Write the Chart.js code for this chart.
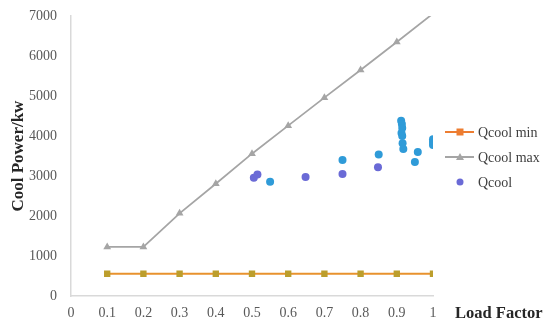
<!DOCTYPE html>
<html>
<head>
<meta charset="utf-8">
<script src="https://cdn.jsdelivr.net/npm/chart.js@4"></script>
<style>
    html, body { margin: 0; padding: 0; background: #fff; }
    #wrap { width: 550px; height: 330px; position: relative; }
</style>
</head>
<body>
<div id="wrap"><canvas id="chart"></canvas></div>
<script>
// ---- data -----------------------------------------------------------------
var loadFactors = [0.1, 0.2, 0.3, 0.4, 0.5, 0.6, 0.7, 0.8, 0.9, 1.0];
var qcoolMin = [560, 560, 560, 560, 560, 560, 560, 560, 560, 560];
var qcoolMax = [1230, 1230, 2070, 2810, 3560, 4260, 4960, 5650, 6350, 7060];

// measured operating points (purple ones are the "Qcool" legend entry)
var qcoolX = [0.505, 0.515, 0.648, 0.75, 0.848];
var qcoolY = [2960, 3040, 2975, 3050, 3220];
// extra measured points, drawn in light blue, not in the legend
var qcoolExtraX = [0.55, 0.75, 0.85, 0.912, 0.914, 0.915, 0.913, 0.915, 0.916, 0.918, 0.95, 0.958, 1.0, 1.0, 1.0];
var qcoolExtraY = [2860, 3400, 3540, 4380, 4300, 4200, 4080, 4000, 3820, 3680, 3350, 3600, 3920, 3850, 3780];

var C = {
    orange: '#ED7D31',
    olive: '#BC9E2C',
    gray: '#A5A5A5',
    purple: '#6A6AD6',
    blue: '#2F9BD8',
    axis: '#D9D9D9',
    tick: '#595959',
    ink: '#262626'
};
var serif = '"Liberation Serif", "DejaVu Serif", serif';

// legend drawn Excel-style: short line with the marker in the middle
var legendItems = [
    { label: 'Qcool min', line: C.orange, marker: 'rect', color: C.orange },
    { label: 'Qcool max', line: C.gray, marker: 'triangle', color: C.gray },
    { label: 'Qcool', line: null, marker: 'circle', color: C.purple }
];

var sideText = {
    id: 'sideText',
    afterDraw: function (chart) {
        var ctx = chart.ctx;
        var area = chart.chartArea;
        ctx.save();
        // legend
        var x0 = area.right + 12;
        var y0 = 132;
        legendItems.forEach(function (it, i) {
            var y = y0 + i * 25;
            var cx = x0 + 15;
            if (it.line) {
                ctx.strokeStyle = it.line;
                ctx.lineWidth = 2;
                ctx.beginPath();
                ctx.moveTo(x0, y);
                ctx.lineTo(x0 + 29, y);
                ctx.stroke();
            }
            ctx.fillStyle = it.color;
            ctx.beginPath();
            if (it.marker === 'rect') {
                ctx.rect(cx - 3.5, y - 3.5, 7, 7);
            } else if (it.marker === 'triangle') {
                ctx.moveTo(cx, y - 4);
                ctx.lineTo(cx + 4, y + 3);
                ctx.lineTo(cx - 4, y + 3);
                ctx.closePath();
            } else {
                ctx.arc(cx, y, 3.5, 0, Math.PI * 2);
            }
            ctx.fill();
            ctx.font = '14px ' + serif;
            ctx.fillStyle = '#404040';
            ctx.textAlign = 'left';
            ctx.textBaseline = 'middle';
            ctx.fillText(it.label, x0 + 33, y + 1);
        });
        // x axis title sits beside the tick labels
        ctx.font = 'bold 16.5px ' + serif;
        ctx.fillStyle = C.ink;
        ctx.textAlign = 'left';
        ctx.textBaseline = 'middle';
        ctx.fillText('Load Factor', area.right + 22, area.bottom + 18);
        ctx.restore();
    }
};

var pts = function (xs, ys) {
    return xs.map(function (x, i) { return { x: x, y: ys[i] }; });
};

new Chart(document.getElementById('chart'), {
    type: 'scatter',
    data: {
        datasets: [
            {
                label: 'Qcool min',
                data: pts(loadFactors, qcoolMin),
                showLine: true,
                borderColor: '#E8922E',
                borderWidth: 2,
                pointStyle: 'rect',
                pointRadius: 4.5,
                pointBackgroundColor: C.olive,
                pointBorderWidth: 0
            },
            {
                label: 'Qcool max',
                data: pts(loadFactors, qcoolMax),
                showLine: true,
                borderColor: C.gray,
                borderWidth: 1.75,
                pointStyle: 'triangle',
                pointRadius: 4.5,
                pointBackgroundColor: C.gray,
                pointBorderWidth: 0
            },
            {
                label: 'Qcool extra',
                data: pts(qcoolExtraX, qcoolExtraY),
                pointRadius: 4,
                pointBackgroundColor: C.blue,
                pointBorderWidth: 0
            },
            {
                label: 'Qcool',
                data: pts(qcoolX, qcoolY),
                pointRadius: 4,
                pointBackgroundColor: C.purple,
                pointBorderWidth: 0
            }
        ]
    },
    options: {
        responsive: true,
        maintainAspectRatio: false,
        animation: false,
        layout: { padding: { top: 16, right: 117, bottom: 0, left: 8 } },
        plugins: { legend: { display: false }, tooltip: { enabled: false } },
        scales: {
            x: {
                type: 'linear',
                min: 0,
                max: 1,
                grid: { display: false, drawTicks: false },
                border: { color: C.axis, width: 1.5 },
                ticks: {
                    stepSize: 0.1,
                    padding: 8.5,
                    color: C.tick,
                    font: { family: serif, size: 14 },
                    callback: function (v) { return String(Number(v.toFixed(1))); }
                }
            },
            y: {
                min: 0,
                max: 7000,
                grid: { display: false, drawTicks: false },
                border: { color: C.axis, width: 1.5 },
                ticks: {
                    stepSize: 1000,
                    padding: 14,
                    color: C.tick,
                    font: { family: serif, size: 14 },
                    callback: function (v) { return String(v); }
                },
                title: {
                    display: true,
                    text: 'Cool Power/kw',
                    color: C.ink,
                    font: { family: serif, size: 17, weight: 'bold' },
                    padding: { top: 0, bottom: 0 }
                },
                afterFit: function (scale) {
                    scale.width = 63;
                    scale.paddingTop = 0;
                    scale.paddingBottom = 0;
                }
            }
        }
    },
    plugins: [sideText]
});
</script>
</body>
</html>
